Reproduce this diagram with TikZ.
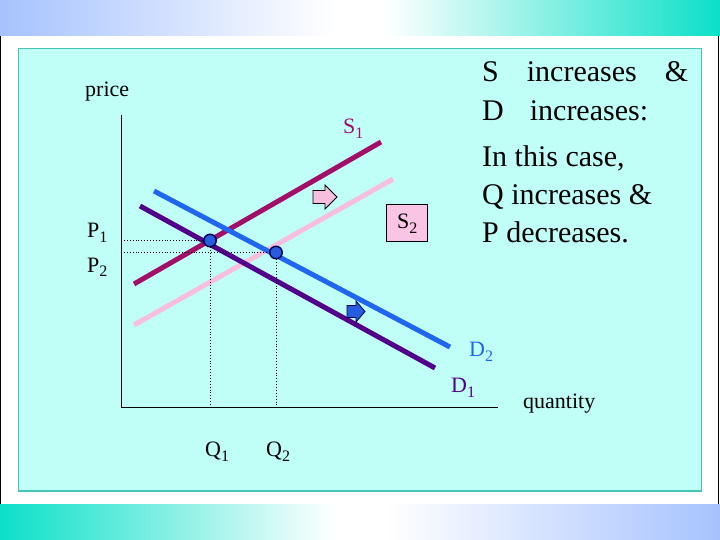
\documentclass[tikz,border=0pt]{standalone}
\usepackage{fontspec}
\setmainfont{Liberation Serif}
\definecolor{barblue}{RGB}{166,194,255}
\definecolor{barturq}{RGB}{12,224,200}
\definecolor{panelfill}{RGB}{192,255,248}
\definecolor{paneledge}{RGB}{70,196,180}
\definecolor{sonecol}{RGB}{162,14,104}
\definecolor{stwocol}{RGB}{248,190,222}
\definecolor{donecol}{RGB}{82,0,140}
\definecolor{dtwocol}{RGB}{32,102,238}
\definecolor{dotfill}{RGB}{40,92,224}
\definecolor{dotedge}{RGB}{0,0,80}
\definecolor{boxpink}{RGB}{250,196,228}
\newcommand\lsub[1]{\raisebox{-5pt}{\fontsize{16}{16}\selectfont #1}}
\begin{document}
\begin{tikzpicture}[x=1pt,y=-1pt,
  curve/.style={line width=5pt},
  lbl/.style={anchor=base west,inner sep=0pt,font=\fontsize{22}{22}\selectfont},
  big/.style={anchor=base west,inner sep=0pt,font=\fontsize{30}{30}\selectfont},
  eqdot/.style={circle,fill=dotfill,draw=dotedge,line width=1.4pt,minimum size=12.5pt,inner sep=0pt},
  guide/.style={dotted,line width=0.9pt},
  axis/.style={line width=1pt}]
\useasboundingbox (0,0) rectangle (720,540);
% gradient bars
\shade[left color=barblue,right color=white] (0,0) rectangle (335,36);
\fill[white] (334,0) rectangle (386,36);
\shade[left color=white,right color=barturq] (385,0) rectangle (720,36);
\shade[left color=barturq,right color=white] (0,504) rectangle (335,540);
\fill[white] (334,504) rectangle (386,540);
\shade[left color=white,right color=barblue] (385,504) rectangle (720,540);
\fill[white] (0,36) rectangle (720,504);
\draw[line width=1pt] (0.5,36) -- (0.5,504);
\draw[line width=1pt] (718.5,36) -- (718.5,504);
% panel
\draw[fill=panelfill,draw=paneledge,line width=1.5pt] (18.5,48.5) rectangle (701.5,491);
% axes
\coordinate (ytop) at (121,115);
\coordinate (orig) at (121,407.5);
\coordinate (xend) at (498,407.5);
\draw[axis] (ytop) -- (orig) -- (xend);
% curves
\coordinate (s2a) at (134,325); \coordinate (s2b) at (393,179);
\coordinate (s1a) at (134,284); \coordinate (s1b) at (381,142);
\coordinate (d1a) at (140,206); \coordinate (d1b) at (435,368);
\coordinate (d2a) at (154,191); \coordinate (d2b) at (450,347);
\draw[curve,stwocol] (s2a) -- (s2b);
\draw[curve,sonecol] (s1a) -- (s1b);
\draw[curve,donecol] (d1a) -- (d1b);
\draw[curve,dtwocol] (d2a) -- (d2b);
% equilibria
\node[eqdot] (e1) at (210,240.5) {};
\node[eqdot] (e2) at (276,252.5) {};
\coordinate (p1) at (121,240.5);
\coordinate (p2) at (121,252.5);
\coordinate (q1) at (210,407.5);
\coordinate (q2) at (276,407.5);
\draw[guide] (p1) -- (e1.west);
\draw[guide] (p2) -- (e2.west);
\draw[guide] (e1.south) -- (q1);
\draw[guide] (e2.south) -- (q2);
% shift arrows
\draw[fill=stwocol,line width=0.8pt] (313,190.5) -- (325,190.5) -- (325,185) -- (337,197) -- (325,209) -- (325,203.5) -- (313,203.5) -- cycle;
\draw[fill=dotfill,draw=dotedge,line width=0.8pt] (347,305.5) -- (356,305.5) -- (356,301) -- (365,311.5) -- (356,322) -- (356,317.5) -- (347,317.5) -- cycle;
% S2 box
\draw[fill=boxpink,line width=0.8pt] (386,204) rectangle (427,241);
% labels
\node[lbl] (price) at (85,97) {price};
\node[lbl] (quant) at (523,408) {quantity};
\node[lbl] (lp1) at (87,237) {P\lsub{1}};
\node[lbl] (lp2) at (87,272) {P\lsub{2}};
\node[lbl] (lq1) at (205,456) {Q\lsub{1}};
\node[lbl] (lq2) at (266,456) {Q\lsub{2}};
\node[lbl,text=sonecol] (ls1) at (343,134) {S\lsub{1}};
\node[lbl] (ls2) at (397,229) {S\lsub{2}};
\node[lbl,text=dtwocol] (ld2) at (469,356) {D\lsub{2}};
\node[lbl,text=donecol] (ld1) at (451,392) {D\lsub{1}};
% explanation
\node[big] (t1) at (482,82) {S\hspace{28pt}increases\hspace{28pt}\&};
\node[big] (t2) at (482,121) {D\hspace{26pt}increases:};
\node[big] (t3) at (482,167) {In this case,};
\node[big] (t4) at (482,205) {Q increases \&};
\node[big] (t5) at (482,243) {P decreases.};
\end{tikzpicture}
\end{document}
